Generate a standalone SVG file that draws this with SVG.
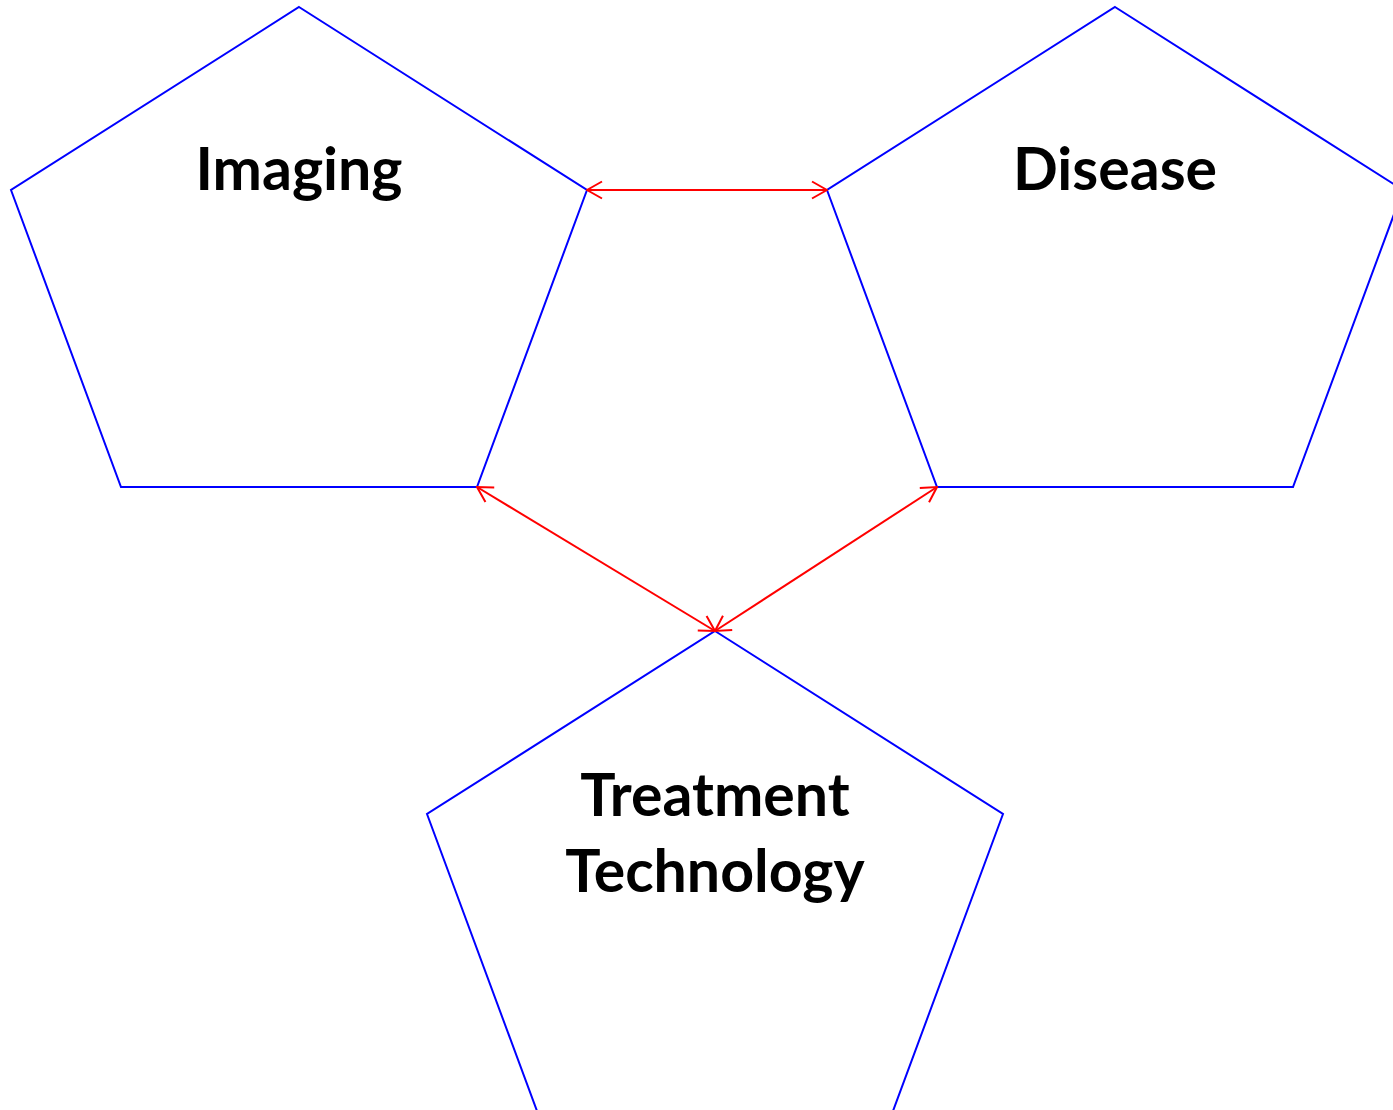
<svg xmlns="http://www.w3.org/2000/svg" width="1393" height="1110" viewBox="0 0 1393 1110">
<style>
.node{fill:#fff;stroke:#0000ff;stroke-width:2}
.lbl{font-family:Lato,"Open Sans","Liberation Sans",sans-serif;font-weight:bold;font-size:59px;fill:#000;text-anchor:middle}
.conn{stroke:#ff0000;stroke-width:2;fill:none;marker-start:url(#ah);marker-end:url(#ah)}
</style>
<defs>
<marker id="ah" viewBox="0 0 20 20" refX="19" refY="10" markerWidth="20" markerHeight="20" markerUnits="userSpaceOnUse" orient="auto-start-reverse">
<path d="M4,1.5 L19,10 L4,18.5" fill="none" stroke="#ff0000" stroke-width="2"/>
</marker>
</defs>
<rect width="1393" height="1110" fill="#fff"/>
<g id="imaging">
<polygon class="node" points="299,7 587,190 477,487 121,487 11,190"/>
<text class="lbl" x="299" y="190">Imaging</text>
</g>
<g id="disease">
<polygon class="node" points="1115,7 1403,190 1293,487 937,487 827,190"/>
<text class="lbl" x="1115" y="190">Disease</text>
</g>
<g id="treatment">
<polygon class="node" points="715,631 1003,814 893,1111 537,1111 427,814"/>
<text class="lbl" x="715" y="816">Treatment</text>
<text class="lbl" x="715" y="892">Technology</text>
</g>
<g id="connectors">
<line class="conn" x1="587" y1="190" x2="827" y2="190"/>
<line class="conn" x1="477" y1="487" x2="715" y2="631"/>
<line class="conn" x1="937" y1="487" x2="715" y2="631"/>
</g>
</svg>
